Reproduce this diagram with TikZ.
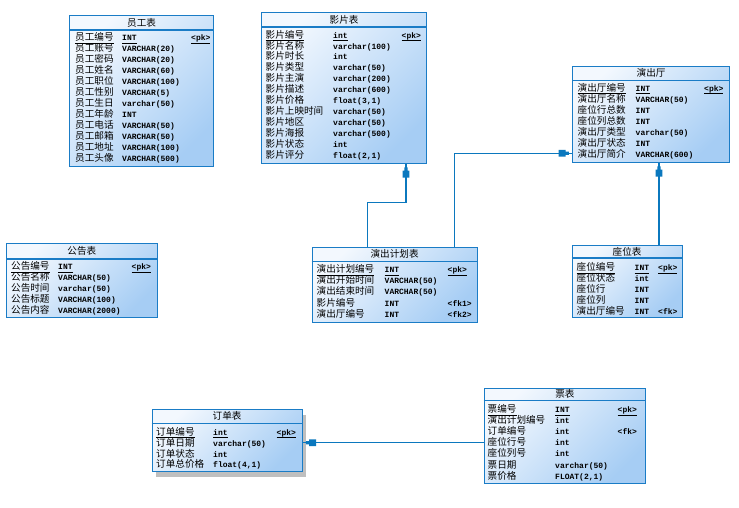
\documentclass[tikz,border=0pt]{standalone}
\usepackage{fontspec}
\newfontfamily\cjk{Noto Sans CJK SC}
\newfontfamily\monof{Liberation Mono}
\usetikzlibrary{shadows,decorations.markings,calc}

\definecolor{erblue}{HTML}{1A7CC6}
\definecolor{erline}{HTML}{0B78BE}
\definecolor{erlight}{HTML}{F3F8FE}
\definecolor{erdeep}{HTML}{A6CDF4}

\tikzset{
  x=1pt, y=-1pt,
  entity/.style={draw=erblue, line width=1.2pt, anchor=north west, inner sep=0pt,
    top color=erlight, bottom color=erdeep, shading angle=45},
  divider/.style={draw=erblue, line width=1.2pt},
  caption/.style={font=\cjk\fontsize{9.6}{10}\selectfont, inner sep=0pt, anchor=center},
  namecell/.style={font=\cjk\fontsize{9.6}{10}\selectfont, inner sep=0pt, anchor=base west},
  typecell/.style={font=\monof\bfseries\fontsize{8}{9}\selectfont, inner sep=0pt, anchor=base west},
  link/.style={draw=erline, line width=1.4pt, postaction={decorate},
    decoration={markings, mark=at position -3.5pt with {%
      \fill[erline] (0.3pt,-1.6pt) -- (0.3pt,1.6pt) -- (-3pt,1.6pt) -- (-3pt,3.3pt)
        -- (-10pt,3.3pt) -- (-10pt,-3.3pt) -- (-3pt,-3.3pt) -- (-3pt,-1.6pt) -- cycle;}}},
}

% underlined primary-key cell
\newcommand\ul[1]{\underline{\smash{#1}\rule[-0.8pt]{0pt}{0pt}}}

% entity box: [extra options]{name}{left}{top}{right}{bottom}{divider y}{title}
\newcommand\erbox[8][]{%
  \node[entity, #1, minimum width={#5-#3}, minimum height={#6-#4}] (#2) at (#3,#4) {};
  \draw[divider] (#2.west |- 0,#7) -- (#2.east |- 0,#7);
  \node[caption] (#2-title) at ($(#2.north)!0.5!(#2.north |- 0,#7)$) {#8};
}

% attribute rows: {prefix}{name x}{type x}{key x}{first row y}{pitch}{rows}
\newcommand\errows[7]{%
  \foreach \n/\t/\k [count=\i] in {#7} {
    \pgfmathsetmacro\yy{#5+(\i-1)*#6+3.5}
    \ifnum\i=1
      \node[namecell] (#1-n\i) at (#2,\yy) {\ul{\n}};
      \node[typecell] (#1-t\i) at (#3,\yy) {\ul{\t}};
      \node[typecell] (#1-k\i) at (#4,\yy) {\ul{\k}};
    \else
      \node[namecell] (#1-n\i) at (#2,\yy) {\n};
      \node[typecell] (#1-t\i) at (#3,\yy) {\t};
      \node[typecell] (#1-k\i) at (#4,\yy) {\k};
    \fi
  }
}

\begin{document}
\begin{tikzpicture}
\useasboundingbox (0,0) rectangle (739,508);
\fill[white] (0,0) rectangle (739,508);

% 员工表
\erbox{emp}{69}{15}{213}{166}{30}{员工表}
\errows{emp}{75}{122}{191}{37.3}{11.0}{%
  员工编号/INT/<pk>, 员工账号/VARCHAR(20)/{}, 员工密码/VARCHAR(20)/{},
  员工姓名/VARCHAR(60)/{}, 员工职位/VARCHAR(100)/{}, 员工性别/VARCHAR(5)/{},
  员工生日/varchar(50)/{}, 员工年龄/INT/{}, 员工电话/VARCHAR(50)/{},
  员工邮箱/VARCHAR(50)/{}, 员工地址/VARCHAR(100)/{}, 员工头像/VARCHAR(500)/{}}

% 影片表
\erbox{film}{261}{12}{426}{163}{27}{影片表}
\errows{film}{265.5}{333}{401.5}{34.7}{10.9}{%
  影片编号/int/<pk>, 影片名称/varchar(100)/{}, 影片时长/int/{},
  影片类型/varchar(50)/{}, 影片主演/varchar(200)/{}, 影片描述/varchar(600)/{},
  影片价格/{float(3,1)}/{}, 影片上映时间/varchar(50)/{}, 影片地区/varchar(50)/{},
  影片海报/varchar(500)/{}, 影片状态/int/{}, 影片评分/{float(2,1)}/{}}

% 演出厅
\erbox{hall}{572}{66}{729}{162}{80.3}{演出厅}
\errows{hall}{577.5}{635.5}{704}{88}{10.95}{%
  演出厅编号/INT/<pk>, 演出厅名称/VARCHAR(50)/{}, 座位行总数/INT/{},
  座位列总数/INT/{}, 演出厅类型/varchar(50)/{}, 演出厅状态/INT/{},
  演出厅简介/VARCHAR(600)/{}}

% 公告表
\erbox{notice}{6}{243}{156.5}{317}{259}{公告表}
\errows{notice}{11}{58}{131.5}{266}{11}{%
  公告编号/INT/<pk>, 公告名称/VARCHAR(50)/{}, 公告时间/varchar(50)/{},
  公告标题/VARCHAR(100)/{}, 公告内容/VARCHAR(2000)/{}}

% 演出计划表
\erbox{plan}{311.5}{247}{476.5}{321.5}{261.3}{演出计划表}
\errows{plan}{316.5}{384.5}{447.5}{269}{11.2}{%
  演出计划编号/INT/<pk>, 演出开始时间/VARCHAR(50)/{}, 演出结束时间/VARCHAR(50)/{},
  影片编号/INT/<fk1>, 演出厅编号/INT/<fk2>}

% 座位表
\erbox{seat}{571.5}{245}{681.5}{316.5}{258}{座位表}
\errows{seat}{576.5}{634.5}{658}{267}{10.9}{%
  座位编号/INT/<pk>, 座位状态/int/{}, 座位行/INT/{}, 座位列/INT/{},
  演出厅编号/INT/<fk>}

% 订单表
\erbox[drop shadow={shadow xshift=4pt, shadow yshift=-5pt, fill=black!25, opacity=1}]%
  {order}{151.5}{409}{301.5}{471}{423.3}{订单表}
\errows{order}{156}{213}{276.5}{431.7}{10.9}{%
  订单编号/int/<pk>, 订单日期/varchar(50)/{}, 订单状态/int/{},
  订单总价格/{float(4,1)}/{}}

% 票表
\erbox{ticket}{483.5}{388}{645}{482.5}{400.7}{票表}
\errows{ticket}{487.5}{555}{617.5}{409}{11.1}{%
  票编号/INT/<pk>, 演出计划编号/int/{}, 订单编号/int/<fk>, 座位行号/int/{},
  座位列号/int/{}, 票日期/varchar(50)/{}, 票价格/{FLOAT(2,1)}/{}}

% references
\coordinate (bend1) at (406,202.3);
\draw[link] ([xshift=56pt]plan.north west) |- (bend1) -- ([xshift=145pt]film.south west);
\draw[link] ([xshift=143pt]plan.north west) |- ([yshift=-87.3pt]hall.north west);
\draw[link] ([xshift=87.5pt]seat.north west) -- ([xshift=87pt]hall.south west);
\coordinate (tk) at ([yshift=-54.7pt]ticket.north west);
\draw[link] (tk) -- (tk -| order.east);
\end{tikzpicture}
\end{document}
